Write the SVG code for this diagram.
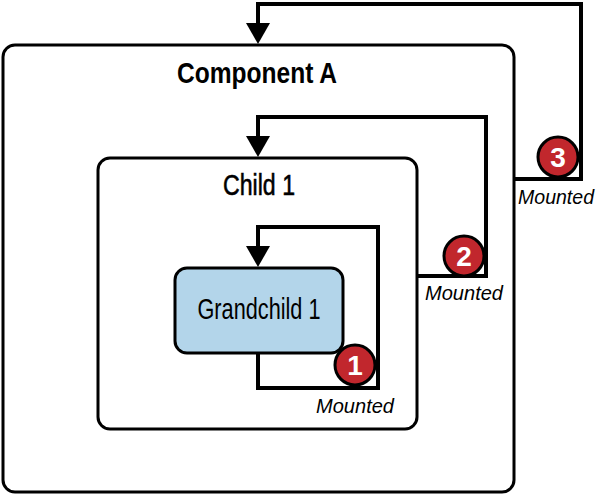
<svg xmlns="http://www.w3.org/2000/svg" width="600" height="496" viewBox="0 0 600 496">
<style>
.box{fill:#fff;stroke:#000;stroke-width:3}
.gc{fill:#b3d5ea;stroke:#000;stroke-width:3}
.conn{fill:none;stroke:#000;stroke-width:4;stroke-linejoin:miter}
.title{font-family:"Liberation Sans",Arial,sans-serif;font-size:30px;fill:#000;text-anchor:middle}
.lbl{font-family:"Liberation Sans",Arial,sans-serif;font-size:21px;font-style:italic;fill:#000}
.badge{fill:#c1272d;stroke:#000;stroke-width:3}
.num{font-family:"Liberation Sans",Arial,sans-serif;font-size:28px;font-weight:bold;fill:#fff;text-anchor:middle}
</style>
<defs>
<marker id="arr" markerWidth="22" markerHeight="24" refX="13" refY="12" orient="auto" markerUnits="userSpaceOnUse">
<path d="M0,0 L21,12 L0,24 Z" fill="#000"/>
</marker>
</defs>
<rect width="600" height="496" fill="#fff"/>
<g id="componentA">
<rect class="box" x="3" y="45" width="511" height="447" rx="12"/>
<text class="title" x="257" y="83" font-weight="bold" textLength="160" lengthAdjust="spacingAndGlyphs">Component A</text>
</g>
<g id="child1">
<rect class="box" x="98" y="158" width="319" height="271" rx="12"/>
<text class="title" x="259" y="195" stroke="#000" stroke-width="0.6" textLength="72" lengthAdjust="spacingAndGlyphs">Child 1</text>
</g>
<g id="grandchild1">
<rect class="gc" x="175" y="268" width="168" height="85" rx="12"/>
<text class="title" x="259" y="319" textLength="123" lengthAdjust="spacingAndGlyphs">Grandchild 1</text>
</g>
<g id="connectors">
<path class="conn" d="M258,353 V388 H378 V227 H258 V259" marker-end="url(#arr)"/>
<path class="conn" d="M417,276 H486 V117 H258 V149" marker-end="url(#arr)"/>
<path class="conn" d="M514,179 H581 V4 H258 V36" marker-end="url(#arr)"/>
</g>
<g id="badge1">
<circle class="badge" cx="355" cy="365" r="20"/>
<text class="num" x="355" y="375">1</text>
<text class="lbl" x="316" y="413" textLength="78" lengthAdjust="spacingAndGlyphs">Mounted</text>
</g>
<g id="badge2">
<circle class="badge" cx="464" cy="256" r="20"/>
<text class="num" x="464" y="266">2</text>
<text class="lbl" x="425" y="300" textLength="78" lengthAdjust="spacingAndGlyphs">Mounted</text>
</g>
<g id="badge3">
<circle class="badge" cx="558" cy="157" r="20"/>
<text class="num" x="558" y="167">3</text>
<text class="lbl" x="518" y="204" textLength="76" lengthAdjust="spacingAndGlyphs">Mounted</text>
</g>
</svg>
